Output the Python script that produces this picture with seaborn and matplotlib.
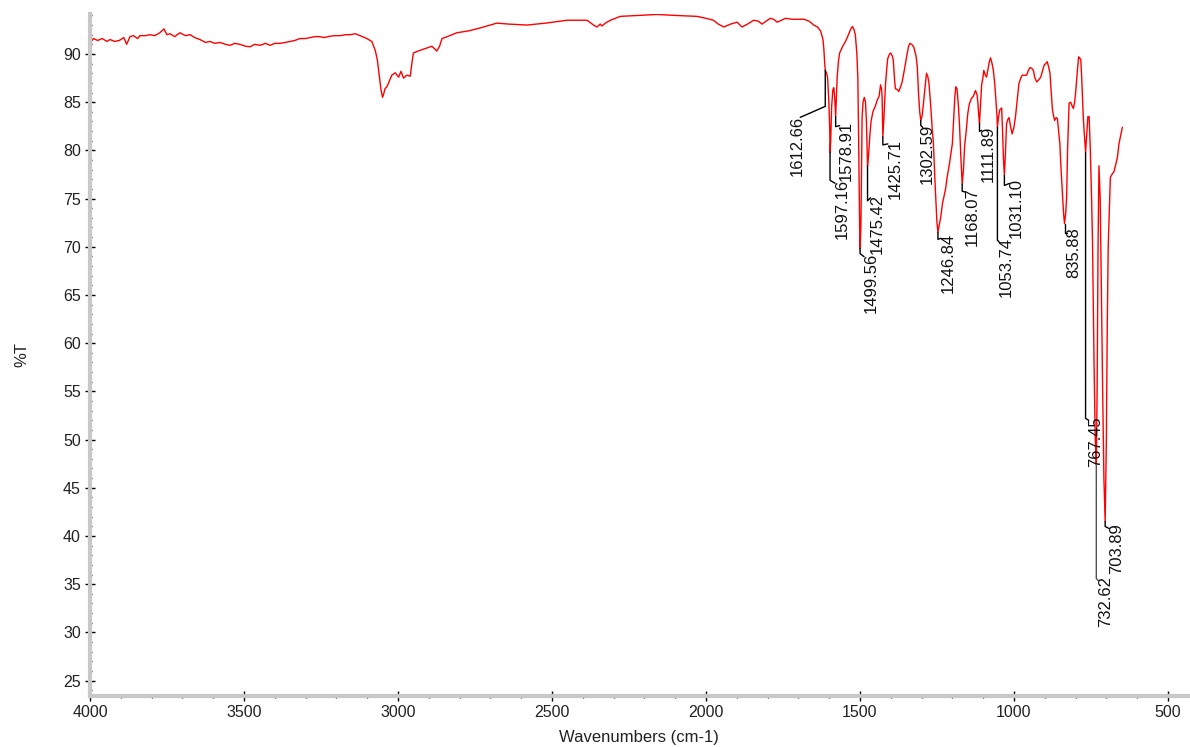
import numpy as np
import pandas as pd
import matplotlib
matplotlib.use("Agg")
import matplotlib.pyplot as plt
import seaborn as sns
from matplotlib.ticker import MultipleLocator

# ---------------- data (wavenumber cm-1, %T) ----------------
baseline_region = [
    (4000, 91.1), (3989, 91.6), (3975, 91.4), (3960, 91.6), (3945, 91.3), (3935, 91.5),
    (3920, 91.3), (3905, 91.4), (3890, 91.7), (3881, 91.0), (3870, 91.8), (3859, 91.9),
    (3845, 91.6), (3838, 91.9), (3820, 91.9), (3805, 92.0), (3790, 91.9), (3773, 92.2),
    (3760, 92.6), (3750, 92.0), (3740, 92.1), (3725, 91.8), (3708, 92.2), (3690, 91.9),
    (3675, 92.0), (3660, 91.7), (3643, 91.5), (3625, 91.2), (3610, 91.3), (3595, 91.1),
    (3578, 91.2), (3560, 91.0), (3545, 90.9), (3530, 91.1), (3513, 91.0), (3495, 90.8),
    (3480, 90.75), (3465, 91.0), (3448, 90.9), (3430, 91.1), (3415, 90.9), (3400, 91.1),
    (3383, 91.1), (3365, 91.2), (3350, 91.3), (3335, 91.4), (3318, 91.6), (3300, 91.6),
    (3285, 91.7), (3270, 91.8), (3253, 91.8), (3240, 91.7), (3220, 91.85), (3205, 91.9),
    (3188, 91.9), (3170, 92.0), (3155, 92.0), (3139, 92.1), (3123, 91.9), (3101, 91.6),
]
ch_stretch_region = [
    (3085, 91.3), (3074, 90.4), (3067, 89.4), (3060, 87.6), (3055, 86.25), (3050, 85.5),
    (3046, 85.9), (3042, 86.4), (3036, 86.6), (3031, 86.95), (3020, 87.8), (3009, 88.05),
    (2998, 87.6), (2990, 88.2), (2982, 87.5), (2971, 87.8), (2960, 87.7), (2955, 89.0),
    (2950, 90.1), (2935, 90.3), (2917, 90.5), (2900, 90.7), (2890, 90.8), (2880, 90.5),
    (2874, 90.3), (2865, 90.8), (2857, 91.6), (2840, 91.8), (2809, 92.2), (2770, 92.4),
    (2733, 92.7), (2700, 93.0), (2679, 93.2),
]
overtone_region = [
    (2640, 93.1), (2581, 93.0), (2520, 93.2), (2451, 93.5), (2400, 93.5), (2386, 93.5),
    (2365, 93.0), (2354, 92.8), (2343, 93.1), (2338, 92.9), (2327, 93.2), (2310, 93.5),
    (2278, 93.9), (2220, 94.0), (2159, 94.1), (2100, 94.0), (2029, 93.9), (2000, 93.7),
    (1976, 93.5), (1960, 93.1), (1942, 92.8), (1920, 93.1), (1899, 93.3), (1883, 92.8),
    (1865, 93.1), (1845, 93.5), (1830, 93.4), (1818, 93.1), (1805, 93.4), (1791, 93.7),
    (1780, 93.6), (1769, 93.3), (1755, 93.5), (1742, 93.7), (1720, 93.6), (1693, 93.6),
    (1682, 93.6), (1665, 93.4), (1650, 93.0), (1638, 92.8), (1628, 92.4), (1620, 91.5),
    (1617, 90.4), (1614, 88.8),
]
aromatic_region = [
    (1612.66, 88.3), (1608, 88.0), (1605, 87.5), (1601, 85.0), (1598, 82.0), (1597.16, 79.8),
    (1595, 81.0), (1592, 84.5), (1588, 86.3), (1585, 86.5), (1582, 85.5), (1578.91, 83.5),
    (1576, 85.8), (1574, 87.6), (1570, 89.2), (1566, 90.1), (1556, 90.8), (1547, 91.3),
    (1540, 91.8), (1531, 92.5), (1525, 92.85), (1520, 92.6), (1515, 92.0), (1510, 90.0),
    (1507, 87.6), (1505, 83.0), (1503, 77.2), (1501, 72.0), (1499.56, 69.8), (1497, 72.0),
    (1495, 78.0), (1493, 83.5), (1490, 85.0), (1486, 85.5), (1482, 85.0), (1479, 83.0),
    (1475.42, 78.4), (1472, 79.5), (1468, 81.5), (1464, 83.0), (1458, 84.0), (1450, 84.6),
    (1444, 85.2), (1438, 85.6), (1433, 86.8), (1430, 86.4), (1428, 85.5), (1425.71, 81.4),
    (1422, 83.5), (1417, 86.9), (1413, 88.5), (1410, 89.5), (1404, 90.0), (1400, 90.1),
    (1395, 89.8), (1392, 89.4), (1388, 87.5), (1385, 86.4), (1378, 86.3), (1374, 86.1),
    (1368, 86.6), (1363, 87.1), (1355, 88.5), (1347, 90.0), (1342, 90.8), (1338, 91.1),
    (1332, 91.0), (1325, 90.7), (1318, 89.8), (1314, 88.7), (1310, 86.0), (1306, 84.0),
    (1302.59, 83.1), (1298, 83.6), (1293, 85.2), (1288, 86.8), (1284, 88.0), (1280, 87.7),
    (1276, 87.0), (1270, 84.5), (1265, 82.0), (1262, 81.0), (1258, 78.0), (1255, 75.8),
    (1250, 72.5), (1246.84, 71.5), (1243, 72.2), (1238, 73.0), (1232, 74.5), (1228, 75.1),
    (1222, 76.0), (1217, 77.2), (1210, 78.5), (1204, 79.8), (1200, 80.7),
]
fingerprint_region = [
    (1196, 83.0), (1192, 85.5), (1189, 86.6), (1185, 86.4), (1180, 84.5), (1176, 82.1),
    (1172, 79.0), (1168.07, 76.5), (1164, 78.0), (1160, 80.5), (1155, 82.0), (1150, 83.8),
    (1145, 84.8), (1138, 85.4), (1132, 85.6), (1125, 86.2), (1120, 85.8), (1117, 84.9),
    (1114, 83.5), (1111.89, 82.8), (1109, 84.5), (1105, 86.8), (1101, 87.5), (1098, 88.3),
    (1093, 87.8), (1089, 87.6), (1084, 88.5), (1080, 89.2), (1076, 89.6), (1071, 89.0),
    (1067, 88.3), (1062, 86.8), (1058, 85.0), (1055, 83.5), (1053.74, 82.4), (1050, 83.5),
    (1046, 84.2), (1040, 84.4), (1037, 82.0), (1034, 79.0), (1031.10, 77.4), (1028, 79.5),
    (1024, 82.8), (1020, 83.2), (1016, 83.4), (1011, 82.5), (1006, 81.7), (1000, 82.4),
    (995, 83.5), (990, 85.0), (984, 86.9), (978, 87.5), (973, 87.8), (966, 87.8),
    (959, 87.8), (953, 88.3), (948, 88.6), (942, 88.5), (937, 88.3), (932, 87.5),
    (926, 87.1), (920, 87.3), (913, 87.6), (907, 88.3), (902, 88.85), (897, 89.0),
    (892, 89.2), (887, 88.6), (883, 88.0), (879, 86.0), (875, 84.2), (871, 83.5),
    (868, 83.1), (863, 83.4), (859, 83.3),
]
low_region = [
    (855, 82.0), (851, 80.7), (847, 78.0), (843, 75.8), (839, 73.5), (835.88, 72.4),
    (832, 73.5), (829, 75.1), (826, 80.0), (821, 84.9), (816, 85.0), (811, 84.6),
    (807, 84.35), (803, 85.0), (800, 85.9), (796, 87.5), (794, 88.3), (790, 89.7),
    (787, 89.6), (783, 89.4), (780, 87.5), (778, 85.9), (775, 83.5), (773, 82.4),
    (770, 81.0), (767.45, 79.8), (764, 81.5), (760, 83.5), (756, 83.5), (752, 80.0),
    (748, 75.0), (745, 70.6), (740, 58.0), (736, 50.0), (732.62, 47.4), (730, 55.0),
    (727, 70.0), (724, 78.4), (720, 75.0), (716, 65.0), (712, 55.0), (708, 46.0),
    (703.89, 41.5), (700, 50.0), (697, 62.0), (694, 70.0), (690, 74.1), (687, 77.2),
    (680, 77.6), (675, 77.8), (670, 78.5), (664, 79.3), (659, 80.7), (652, 81.8),
    (648, 82.4),
]

peak_wn = [1612.66, 1597.16, 1578.91, 1499.56, 1475.42, 1425.71, 1302.59, 1246.84,
           1168.07, 1111.89, 1053.74, 1031.10, 835.88, 767.45, 732.62, 703.89]
peak_labels = ["1612.66", "1597.16", "1578.91", "1499.56", "1475.42", "1425.71",
               "1302.59", "1246.84", "1168.07", "1111.89", "1053.74", "1031.10",
               "835.88", "767.45", "732.62", "703.89"]

x_ticks = [4000, 3500, 3000, 2500, 2000, 1500, 1000, 500]
y_ticks = [25, 30, 35, 40, 45, 50, 55, 60, 65, 70, 75, 80, 85, 90]

# ---------------- annotation layout (pixel offsets from each peak, down positive) ----------------
lead_len = [36, 28, 10, 5, 35, 8, 5, 7, 7, 8, 113, 10, 9, 266, 114, 5]
text_dx = [-28, 12, 11, 11, 10, 12, 6, 10, 10, 9, 9, 12, 9, 10, 9, 11]
text_dy = [46, 27, 4, 4, 28, 2, 3, 1, 3, 2, 110, 3, 4, 264, 111, 2]
hook_dx = [-25, 5, 4, 4, 3, 5, 2, 3, 3, 2, 2, 5, 2, 3, 2, 4]
hook_dy = [47, 31, 9, 8, 32, 7, 7, 6, 8, 7, 115, 8, 9, 268, 116, 7]
leader_col = ["black"] * 14 + ["#505050", "black"]

# ---------------- drawing ----------------
sns.set_style("white")
plt.rcParams["font.family"] = ["Liberation Sans", "DejaVu Sans"]

fig = plt.figure(figsize=(11.9, 7.47), dpi=100)
ax = fig.add_axes([0.0756, 0.0683, 0.9227, 0.913])

points = (baseline_region + ch_stretch_region + overtone_region +
          aromatic_region + fingerprint_region + low_region)
df = pd.DataFrame(points, columns=["Wavenumber", "T"])
sns.lineplot(data=df, x="Wavenumber", y="T", ax=ax, color="#ff0000",
             linewidth=1.0, estimator=None, sort=False)

ax.set_xlim(4000, 435)
ax.set_ylim(23.4, 94.15)
ax.set_xticks(x_ticks)
ax.set_yticks(y_ticks)
ax.xaxis.set_minor_locator(MultipleLocator(100))
ax.yaxis.set_minor_locator(MultipleLocator(1))

for s in ["top", "right"]:
    ax.spines[s].set_visible(False)
for s in ["left", "bottom"]:
    ax.spines[s].set_color("#c8c8c8")
    ax.spines[s].set_linewidth(3)

ax.tick_params(axis="both", which="both", bottom=True, left=True, top=False, right=False)
ax.tick_params(axis="both", which="major", direction="inout", length=7, width=1,
               color="black", labelsize=11.5, labelcolor="#222222", pad=3)
ax.tick_params(axis="both", which="minor", direction="inout", length=3, width=1,
               color="black")

ax.set_xlabel("Wavenumbers (cm-1)", fontsize=12, color="#222222", labelpad=7)
ax.set_ylabel("%T", fontsize=12, color="#222222", labelpad=24)
ax.grid(False)

# peak labels with leader lines
wn_sorted = df["Wavenumber"].to_numpy()[::-1]
t_sorted = df["T"].to_numpy()[::-1]
peak_T = np.interp(peak_wn, wn_sorted, t_sorted)
inv = ax.transData.inverted()
for i, (w, t, lab) in enumerate(zip(peak_wn, peak_T, peak_labels)):
    px, py = ax.transData.transform((w, t))
    pts_disp = [(px, py), (px, py - lead_len[i]), (px + hook_dx[i], py - hook_dy[i])]
    pts = inv.transform(pts_disp)
    ax.plot(pts[:, 0], pts[:, 1], color=leader_col[i], lw=1, clip_on=False, zorder=3)
    ax.annotate(lab, xy=(w, t), xytext=(text_dx[i], -text_dy[i]),
                textcoords="offset pixels", rotation=90, ha="center", va="top",
                fontsize=12, color="#111111")

fig.savefig("out.png", dpi=100)
